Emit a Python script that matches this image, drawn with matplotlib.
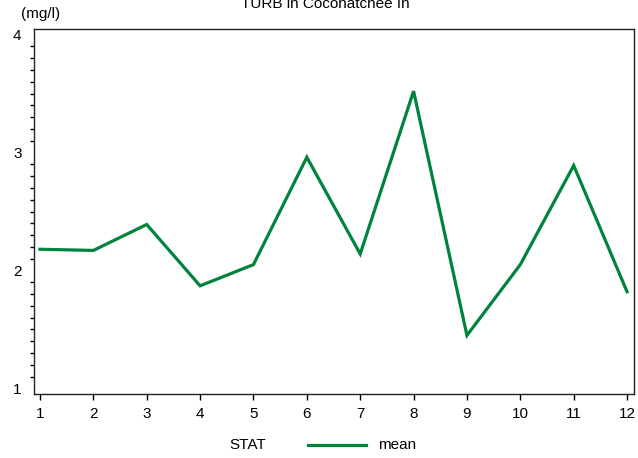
import matplotlib
matplotlib.use("Agg")
import matplotlib.pyplot as plt
from matplotlib.ticker import MultipleLocator

plt.rcParams['font.family'] = ['Liberation Sans', 'DejaVu Sans']

months = [1, 2, 3, 4, 5, 6, 7, 8, 9, 10, 11, 12]
mean = [2.18, 2.17, 2.39, 1.87, 2.05, 2.96, 2.14, 3.52, 1.45, 2.05, 2.89, 1.82]

W, H = 638, 458
fig = plt.figure(figsize=(W / 100, H / 100), dpi=100)
# axes box in pixels: left 34, right 634, top 29, bottom 394
ax = fig.add_axes([34 / W, 1 - 394 / H, 600 / W, 365 / H])

green = '#00843d'
ax.plot(months, mean, color=green, lw=2.3, solid_joinstyle='miter')

ax.set_xlim(0.888, 12.13)
ax.set_ylim(0.953, 4.047)
ax.set_xticks(months)
ax.set_yticks([1, 2, 3, 4])
ax.yaxis.set_minor_locator(MultipleLocator(0.1))
ax.tick_params(axis='x', length=4, width=1, labelsize=11, pad=5, direction='out')
ax.tick_params(axis='y', which='major', length=0, labelsize=11, pad=9)
ax.tick_params(axis='y', which='minor', length=3, width=1)
for s in ax.spines.values():
    s.set_linewidth(1)
    s.set_color('#222222')

fig.text(325 / W, 1 - 4 / H, 'TURB in Cocohatchee In', ha='center', va='center', fontsize=11)
fig.text(41 / W, 1 - 14 / H, '(mg/l)', ha='center', va='center', fontsize=11)

# legend row
fig.text(248 / W, 1 - 445 / H, 'STAT', ha='center', va='center', fontsize=11)
fig.add_artist(plt.Line2D([308 / W, 366 / W], [1 - 445 / H, 1 - 445 / H],
                          color=green, lw=2.3, transform=fig.transFigure))
fig.text(378 / W, 1 - 445 / H, 'mean', ha='left', va='center', fontsize=11)

fig.savefig('out.png', dpi=100)
